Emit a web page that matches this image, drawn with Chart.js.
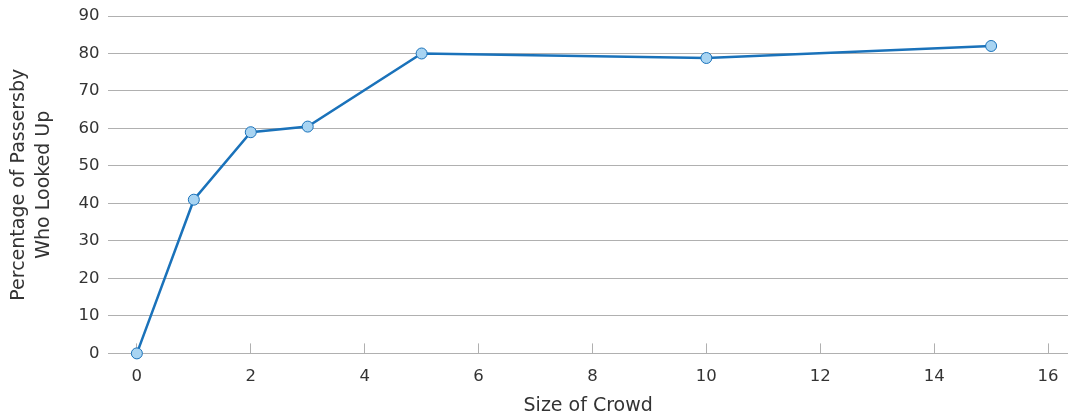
<!DOCTYPE html>
<html>
<head>
<meta charset="utf-8">
<script src="https://cdn.jsdelivr.net/npm/chart.js@4.4.1/dist/chart.umd.min.js"></script>
<style>
html,body{margin:0;padding:0;background:#fff;overflow:hidden;}
#wrap{width:1068px;height:419px;position:relative;}
</style>
</head>
<body>
<div id="wrap"><canvas id="c"></canvas></div>
<script>
const crowdSize = [0, 1, 2, 3, 5, 10, 15];
const pctLookedUp = [0, 41, 59, 60.5, 80, 78.8, 82];
const xTickValues = [0, 2, 4, 6, 8, 10, 12, 14, 16];
const xTitle = 'Size of Crowd';
const yTitle = ['Percentage of Passersby', 'Who Looked Up'];

const font = "'DejaVu Sans', 'Open Sans', sans-serif";
const textColor = '#333333';
const gridColor = '#b0b0b0';

new Chart(document.getElementById('c'), {
  type: 'line',
  data: {
    datasets: [{
      data: crowdSize.map((x, i) => ({ x: x, y: pctLookedUp[i] })),
      borderColor: '#1a72ba',
      borderWidth: 2.5,
      backgroundColor: '#a8d4f2',
      pointBackgroundColor: '#a8d4f2',
      pointBorderColor: '#1a72ba',
      pointBorderWidth: 1,
      pointRadius: 5.5,
      tension: 0,
      fill: false,
      clip: false
    }]
  },
  options: {
    responsive: true,
    maintainAspectRatio: false,
    animation: false,
    layout: { autoPadding: false, padding: { left: 7, right: 0, top: 0, bottom: 2 } },
    plugins: { legend: { display: false }, tooltip: { enabled: false } },
    scales: {
      x: {
        type: 'linear',
        min: -0.5,
        max: 16.35,
        afterBuildTicks: (scale) => { scale.ticks = xTickValues.map(v => ({ value: v })); },
        afterFit: (scale) => { scale.paddingRight = 0; },
        grid: {
          drawOnChartArea: false,
          drawTicks: true,
          tickLength: -10,
          color: gridColor,
          lineWidth: 1
        },
        border: { display: false },
        ticks: {
          color: textColor,
          font: { family: font, size: 16.5 },
          padding: 23,
          maxRotation: 0
        },
        title: {
          display: true,
          text: xTitle,
          color: textColor,
          font: { family: font, size: 19 },
          padding: { top: -15, bottom: 0 }
        }
      },
      y: {
        min: 0,
        max: 90,
        afterFit: (scale) => { scale.paddingTop = 16; },
        ticks: {
          stepSize: 10,
          color: textColor,
          font: { family: font, size: 16.5 },
          padding: 9
        },
        grid: {
          color: gridColor,
          lineWidth: 1,
          drawTicks: false
        },
        border: { display: false },
        title: {
          display: true,
          text: yTitle,
          color: textColor,
          font: { family: font, size: 19, lineHeight: 1.3 },
          padding: { top: 0, bottom: 13 }
        }
      }
    }
  }
});
</script>
</body>
</html>
